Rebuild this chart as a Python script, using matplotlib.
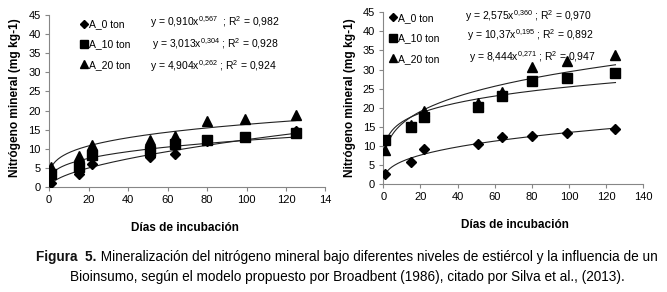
import numpy as np
import matplotlib.pyplot as plt
from matplotlib.lines import Line2D

plt.rcParams['font.family'] = ['Liberation Sans', 'DejaVu Sans']
plt.rcParams['mathtext.fontset'] = 'custom'
plt.rcParams['mathtext.rm'] = 'Liberation Sans'
plt.rcParams['mathtext.it'] = 'Liberation Sans'

# incubation days
dias = [1, 15, 22, 51, 64, 80, 99, 125]

# left panel
izq_a0 = [1.0, 3.5, 6.1, 7.9, 8.7, 12.0, 13.0, 14.6]
izq_a10 = [3.5, 5.2, 8.3, 9.4, 11.2, 12.2, 13.1, 14.0]
izq_a20 = [5.2, 8.0, 10.9, 12.2, 13.3, 17.3, 17.9, 18.8]
izq_coef = [(0.910, 0.567), (3.013, 0.304), (4.904, 0.262)]
izq_eq = [r"y = 0,910x$^{0{,}567}$  ; R$^{2}$ = 0,982",
          r"y = 3,013x$^{0{,}304}$ ; R$^{2}$ = 0,928",
          r"y = 4,904x$^{0{,}262}$ ; R$^{2}$ = 0,924"]

# right panel
der_a0 = [2.6, 5.7, 9.3, 10.4, 12.2, 12.6, 13.3, 14.4]
der_a10 = [11.5, 15.0, 17.5, 20.1, 23.1, 27.0, 27.7, 29.0]
der_a20 = [8.9, 15.5, 19.0, 21.2, 24.2, 30.6, 32.3, 33.8]
der_coef = [(2.575, 0.360), (10.37, 0.195), (8.444, 0.271)]
der_eq = [r"y = 2,575x$^{0{,}360}$ ; R$^{2}$ = 0,970",
          r"y = 10,37x$^{0{,}195}$ ; R$^{2}$ = 0,892",
          r"y = 8,444x$^{0{,}271}$ ; R$^{2}$ = 0,947"]

series_names = ["A_0 ton", "A_10 ton", "A_20 ton"]
markers = ["D", "s", "^"]
msizes = [5, 7, 7]

xticks = [0, 20, 40, 60, 80, 100, 120, 140]

cap_bold = "Figura  5."
cap_line1 = " Mineralización del nitrógeno mineral bajo diferentes niveles de estiércol y la influencia de un"
cap_line2 = "Bioinsumo, según el modelo propuesto por Broadbent (1986), citado por Silva et al., (2013)."

fig = plt.figure(figsize=(6.67, 2.92), dpi=100)
ax1 = fig.add_axes([0.0735, 0.3596, 0.4145, 0.589])
ax2 = fig.add_axes([0.5747, 0.3699, 0.3898, 0.588])

grey = "#868686"


def panel(ax, ys, coefs, eqs, leg_anchor, eq_x, eq_y, last_label):
    xs = np.linspace(1, 125, 200)
    for (a, b) in coefs:
        ax.plot(xs, a * xs ** b, color="#222222", lw=0.8, zorder=2)
    for y, m, s in zip(ys, markers, msizes):
        ax.plot(dias, y, linestyle="none", marker=m, markersize=s,
                color="black", zorder=3)
    ax.set_xlim(0, 140)
    ax.set_ylim(0, 45)
    ax.set_yticks(range(0, 46, 5))
    ax.set_xticks(xticks)
    labels = [str(t) for t in xticks]
    labels[-1] = last_label
    ax.set_xticklabels(labels)
    for sp in ["top", "right"]:
        ax.spines[sp].set_visible(False)
    for sp in ["left", "bottom"]:
        ax.spines[sp].set_color(grey)
        ax.spines[sp].set_linewidth(0.8)
    ax.tick_params(axis="both", labelsize=8, color=grey, length=3,
                   width=0.8, direction="out", pad=3)
    handles = [Line2D([], [], linestyle="none", marker=m, markersize=s - 1,
                      color="black") for m, s in zip(markers, msizes)]
    ax.legend(handles, series_names, loc="upper left",
              bbox_to_anchor=leg_anchor, frameon=False, fontsize=7.5,
              handlelength=0.6, handletextpad=0.2, labelspacing=1.0,
              borderaxespad=0)
    for e, xx, yy in zip(eqs, eq_x, eq_y):
        ax.text(xx, yy, e, fontsize=7.5, va="center", ha="left")


panel(ax1, [izq_a0, izq_a10, izq_a20], izq_coef, izq_eq,
      (0.1, 1.0), [51, 52, 51], [43.2, 37.4, 31.7], "14")
panel(ax2, [der_a0, der_a10, der_a20], der_coef, der_eq,
      (0.01, 1.02), [44, 45, 46], [44.0, 39.0, 33.2], "140")

for xc, yc in [(185, 228), (515, 225)]:
    fig.text(xc / 667, 1 - yc / 292, "Días de incubación", fontsize=8.5,
             fontweight="bold", ha="center", va="center")
for xc in [15, 350]:
    fig.text(xc / 667, 1 - 98 / 292, "Nitrógeno mineral (mg kg-1)",
             fontsize=8.6, fontweight="bold", ha="center", va="center",
             rotation=90)

# caption, first line starts with a bold part
cap_size = 9.8
cap_cx = 347 / 667
fig.canvas.draw()
r = fig.canvas.get_renderer()
y1 = 1 - 257 / 292
t_b = fig.text(0, y1, cap_bold, fontsize=cap_size, fontweight="bold",
               va="center", ha="left", color="#111111")
t_r = fig.text(0, y1, cap_line1, fontsize=cap_size, va="center", ha="left")
wb = t_b.get_window_extent(r).width / fig.bbox.width
wr = t_r.get_window_extent(r).width / fig.bbox.width
x0 = cap_cx - (wb + wr) / 2
t_b.set_x(x0)
t_r.set_x(x0 + wb)
fig.text(cap_cx, 1 - 277 / 292, cap_line2, fontsize=cap_size, ha="center",
         va="center")

fig.savefig("out.png", dpi=100)
